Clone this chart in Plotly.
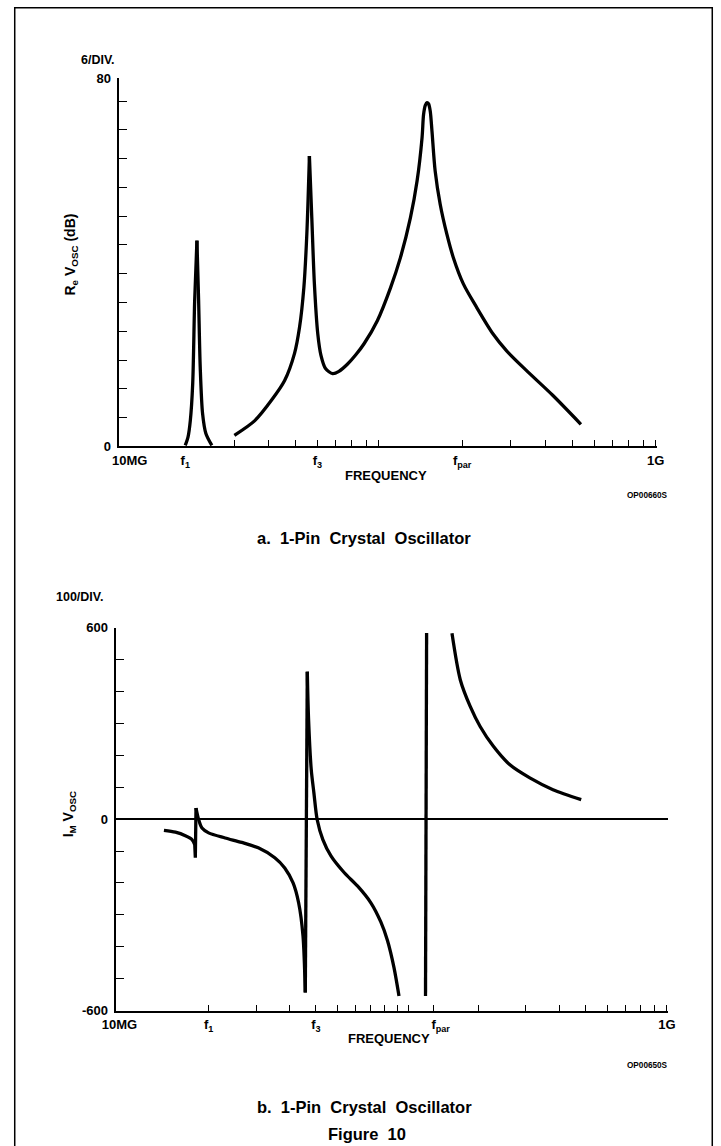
import plotly.graph_objects as go

W, H = 721, 1146

# ---------------- Panel a: Re Vosc (dB) ----------------
a_f1_up_mhz = [20.0, 20.46, 20.86, 21.28, 21.63, 22.04]
a_f1_up_db = [0.2, 2.0, 5.6, 13.7, 31.7, 44.7]
a_f1_dn_mhz = [22.04, 22.35, 22.65, 23.10, 23.74, 24.95]
a_f1_dn_db = [44.7, 31.7, 17.2, 7.1, 2.8, 0.2]

a_f3_up_mhz = [30.09, 35.67, 40.95, 45.70, 49.62, 51.71, 53.62, 54.97, 56.16]
a_f3_up_db = [2.4, 5.6, 10.0, 14.3, 20.2, 25.8, 34.5, 46.2, 63.1]

a_rest_mhz = [56.16, 57.29, 58.53, 60.19, 61.85, 64.21, 68.15, 71.78, 77.15, 82.59,
              88.45, 98.79, 110.3, 119.7, 130.1, 137.5, 143.3, 145.1, 147.2, 149.3,
              151.3, 153.4, 155.6, 159.8, 166.6, 176.1, 185.9, 202.0, 225.6, 258.7,
              289.0, 341.0, 424.6, 536.9]
a_rest_db = [63.1, 49.6, 35.3, 24.5, 19.7, 16.9, 15.8, 16.3, 17.9, 19.9,
             22.3, 27.3, 34.5, 41.0, 49.7, 57.7, 67.1, 72.1, 74.1, 74.7,
             74.4, 72.8, 68.5, 59.8, 52.6, 46.1, 41.0, 35.3, 30.2, 24.4,
             20.8, 16.5, 11.1, 4.8]

a_xtick_hz = [12.6e6, 20e6, 60e6, 200e6, 1e9]
a_xtick_text = ["10MG", "f<sub>1</sub>", "f<sub>3</sub>", "f<sub>par</sub>", "1G"]
a_xminor_hz = [30e6, 40e6, 50e6, 60e6, 70e6, 80e6, 90e6, 100e6,
               200e6, 300e6, 400e6, 500e6, 600e6, 700e6, 800e6, 900e6, 1e9]
a_ytick_vals = [0, 80]
a_ytick_text = ["0", "80"]
a_yminor = [6.25, 12.5, 18.75, 25, 31.25, 37.5, 43.75, 50, 56.25, 62.5, 68.75, 75]

# ---------------- Panel b: Im Vosc ----------------
b_a_mhz = [13.66, 15.07, 16.40, 17.36, 17.77]
b_a_val = [-35, -41, -52, -64, -80]
b_glitch_mhz = [17.77, 17.86, 17.96]
b_glitch_val = [-80, -121, 35]
b_b_mhz = [17.96, 18.38, 18.90, 20.00, 23.03, 26.54, 30.57, 35.19, 38.31, 41.14,
           43.13, 44.77, 45.66]
b_b_val = [35, -2, -28, -43, -59, -73, -90, -121, -153, -200,
           -262, -366, -543]
b_spike_mhz = [45.66, 46.44]
b_spike_val = [-543, 462]
b_c_mhz = [46.44, 46.96, 48.04, 49.14, 50.54, 53.04, 56.91, 63.72, 71.40, 79.91,
           86.99, 92.08, 97.36, 101.6]
b_c_val = [462, 311, 155, 82, -2, -64, -116, -168, -210, -262,
           -322, -380, -465, -554]

b_par_mhz = [127.4, 128.6]
b_par_val = [-554, 583]

b_high_mhz = [159.7, 171.5, 186.6, 203.1, 227.4, 261.9, 310.4, 378.2, 481.3]
b_high_val = [582, 436, 353, 290, 228, 170, 129, 92, 61]

b_xtick_hz = [9.35e6, 20e6, 50e6, 145e6, 1e9]
b_xtick_text = ["10MG", "f<sub>1</sub>", "f<sub>3</sub>", "f<sub>par</sub>", "1G"]
b_xminor_hz = [20e6, 30e6, 40e6, 50e6, 60e6, 70e6, 80e6, 90e6, 100e6, 110e6, 136e6,
               200e6, 300e6, 400e6, 500e6, 600e6, 700e6, 800e6, 900e6, 1e9]
b_ytick_vals = [-600, 0, 600]
b_ytick_text = ["-600", "0", "600"]
b_yminor = [-500, -400, -300, -200, -100, 100, 200, 300, 400, 500]

FONT = "Liberation Sans, Arial, sans-serif"
BLK = "black"

# the page photograph shows the figure slightly inset/scaled; place items so
# that they land on the target pixel positions
SX, OX = 0.974, 11.0
SY, OY = 0.989, 5.7


def px_x(p):
    return ((p - OX) / SX) / W


def px_y(p):
    return 1 - ((p - OY) / SY) / H


fig = go.Figure()


def add_line(fx, vy, xa, ya, shape):
    fig.add_trace(go.Scatter(
        x=[f * 1e6 for f in fx], y=vy, mode="lines",
        line=dict(color=BLK, width=3.3, shape=shape, smoothing=0.8),
        xaxis=xa, yaxis=ya, showlegend=False, hoverinfo="skip"))


add_line(a_f1_up_mhz, a_f1_up_db, "x", "y", "spline")
add_line(a_f1_dn_mhz, a_f1_dn_db, "x", "y", "spline")
add_line(a_f3_up_mhz, a_f3_up_db, "x", "y", "spline")
add_line(a_rest_mhz, a_rest_db, "x", "y", "spline")

add_line(b_a_mhz, b_a_val, "x2", "y2", "spline")
add_line(b_glitch_mhz, b_glitch_val, "x2", "y2", "linear")
add_line(b_b_mhz, b_b_val, "x2", "y2", "spline")
add_line(b_spike_mhz, b_spike_val, "x2", "y2", "linear")
add_line(b_c_mhz, b_c_val, "x2", "y2", "spline")
add_line(b_par_mhz, b_par_val, "x2", "y2", "linear")
add_line(b_high_mhz, b_high_val, "x2", "y2", "spline")

tickfont = dict(family=FONT, size=13, color=BLK, weight="bold")

fig.update_layout(
    width=W, height=H,
    margin=dict(l=0, r=0, t=0, b=0),
    paper_bgcolor="white", plot_bgcolor="white",
    xaxis=dict(
        type="log", range=[7.06, 9.0047],
        domain=[px_x(116), px_x(657)],
        anchor="y",
        showline=True, linecolor=BLK, linewidth=2,
        showgrid=False, zeroline=False,
        tickmode="array", tickvals=a_xtick_hz, ticktext=a_xtick_text,
        ticks="", tickfont=tickfont, ticklabelstandoff=1,
        minor=dict(tickmode="array", tickvals=a_xminor_hz, ticks="inside",
                   ticklen=6, tickwidth=1.3, tickcolor=BLK, showgrid=False),
    ),
    yaxis=dict(
        range=[0, 80],
        domain=[px_y(446), px_y(77)],
        anchor="x",
        showline=True, linecolor=BLK, linewidth=2,
        showgrid=False, zeroline=False,
        tickmode="array", tickvals=a_ytick_vals, ticktext=a_ytick_text,
        ticks="inside", ticklen=8, tickwidth=1.5, tickcolor=BLK,
        tickfont=tickfont, ticklabelstandoff=3,
        minor=dict(tickmode="array", tickvals=a_yminor, ticks="inside",
                   ticklen=8, tickwidth=1.3, tickcolor=BLK, showgrid=False),
    ),
    xaxis2=dict(
        type="log", range=[6.956, 9.004],
        domain=[px_x(113), px_x(668)],
        anchor="y2",
        showline=True, linecolor=BLK, linewidth=2,
        showgrid=False, zeroline=False,
        tickmode="array", tickvals=b_xtick_hz, ticktext=b_xtick_text,
        ticks="", tickfont=tickfont, ticklabelstandoff=1,
        minor=dict(tickmode="array", tickvals=b_xminor_hz, ticks="inside",
                   ticklen=6, tickwidth=1.3, tickcolor=BLK, showgrid=False),
    ),
    yaxis2=dict(
        range=[-600, 600],
        domain=[px_y(1011.5), px_y(627.6)],
        anchor="x2",
        showline=True, linecolor=BLK, linewidth=2,
        showgrid=False,
        zeroline=True, zerolinecolor=BLK, zerolinewidth=1.6,
        tickmode="array", tickvals=b_ytick_vals, ticktext=b_ytick_text,
        ticks="inside", ticklen=8, tickwidth=1.5, tickcolor=BLK,
        tickfont=tickfont, ticklabelstandoff=3,
        minor=dict(tickmode="array", tickvals=b_yminor, ticks="inside",
                   ticklen=8, tickwidth=1.3, tickcolor=BLK, showgrid=False),
    ),
)

NB = "\u00a0"


def ann(text, x, y, size, angle=0):
    fig.add_annotation(text=text, x=px_x(x), y=px_y(y), xref="paper", yref="paper",
                       showarrow=False, xanchor="center", yanchor="middle",
                       textangle=angle,
                       font=dict(family=FONT, size=size, color=BLK, weight="bold"))


ann("6/DIV.", 95, 59, 12.5)
ann("R<sub>e</sub> V<sub>OSC</sub> (dB)", 68, 254, 14, -90)
ann("FREQUENCY", 385, 475, 13)
ann("OP00660S", 647, 495, 8.2)
ann("a." + NB + " 1-Pin" + NB + " Crystal" + NB + " Oscillator", 363, 538, 16.5)
ann("100/DIV.", 77, 597, 12.5)
ann("I<sub>M</sub> V<sub>OSC</sub>", 66, 814, 14, -90)
ann("FREQUENCY", 388, 1039, 13)
ann("OP00650S", 647, 1066, 8.2)
ann("b." + NB + " 1-Pin" + NB + " Crystal" + NB + " Oscillator", 363, 1108, 16.5)
ann("Figure" + NB + " 10", 366, 1135, 16.5)

# outer frame of the figure page
fig.add_shape(type="rect", xref="paper", yref="paper",
              x0=0.75 / W, x1=1 - 0.75 / W, y0=-0.02, y1=1 - 0.75 / H,
              line=dict(color=BLK, width=1.5), fillcolor="rgba(0,0,0,0)")

fig.write_html(
    "out.html",
    config={"displayModeBar": False},
    post_script="document.body.style.margin='0';document.body.style.padding='0';"
                "document.documentElement.style.overflow='hidden';",
)
